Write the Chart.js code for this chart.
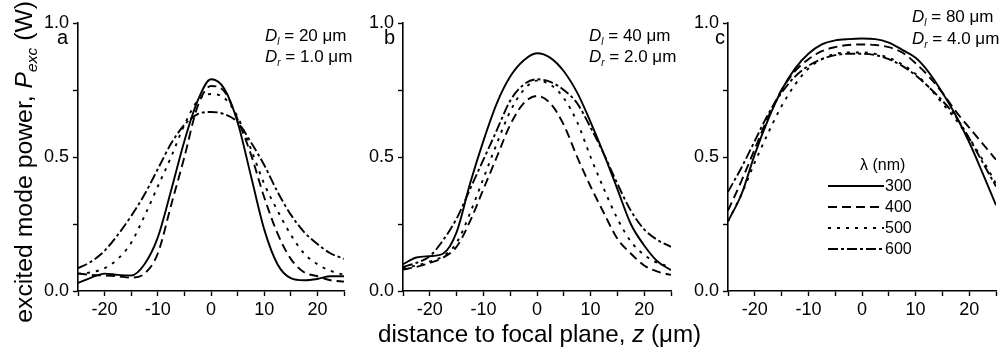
<!DOCTYPE html>
<html lang="en">
<head>
    <meta charset="UTF-8" />
    <title>Excited mode power vs distance</title>
    <script src="https://cdn.jsdelivr.net/npm/chart.js"></script>
    <style>
        body { margin: 0; background: #fff; }
        #wrap { position: relative; width: 1005px; height: 353px; font-family: "Liberation Sans", Arial, sans-serif; color: #000; }
        #wrap canvas { position: absolute; top: 0; }
        .txt { position: absolute; white-space: nowrap; line-height: 1; }
        .note { font-size: 17px; }
        .note sub { font-size: 10px; font-style: italic; vertical-align: -4px; }
        .letter { font-size: 20px; }
        .legend { position: absolute; left: 828px; top: 154px; font-size: 16px; }
        .legend .row { height: 21px; display: flex; align-items: center; }
        .legend svg { width: 56px; height: 6px; margin-right: 1px; }
    </style>
</head>
<body>
<div id="wrap">
    <canvas id="chartA" width="352" height="353" style="left:0px"></canvas>
    <canvas id="chartB" width="328" height="353" style="left:352px"></canvas>
    <canvas id="chartC" width="325" height="353" style="left:680px"></canvas>

    <!-- axis titles -->
    <div class="txt" style="font-size:24.8px; left:-132px; top:151px; width:316px; text-align:center; transform:rotate(-90deg);">excited mode power, <i>P</i><sub style="font-size:15.5px; vertical-align:-5px;"><i>exc</i></sub> (W)</div>
    <div class="txt" style="font-size:24.2px; left:378px; top:322px;">distance to focal plane, <i>z</i> (&mu;m)</div>

    <!-- panel letters -->
    <div class="txt letter" style="left:57px; top:27px;">a</div>
    <div class="txt letter" style="left:384px; top:27px;">b</div>
    <div class="txt letter" style="left:715px; top:27px;">c</div>

    <!-- parameter notes -->
    <div class="txt note" style="left:265px; top:27px;"><i>D</i><sub>l</sub> = 20 &mu;m</div>
    <div class="txt note" style="left:265px; top:48px;"><i>D</i><sub>r</sub> = 1.0 &mu;m</div>
    <div class="txt note" style="left:589px; top:27px;"><i>D</i><sub>l</sub> = 40 &mu;m</div>
    <div class="txt note" style="left:589px; top:48px;"><i>D</i><sub>r</sub> = 2.0 &mu;m</div>
    <div class="txt note" style="left:912px; top:8px;"><i>D</i><sub>l</sub> = 80 &mu;m</div>
    <div class="txt note" style="left:912px; top:30px;"><i>D</i><sub>r</sub> = 4.0 &mu;m</div>

    <!-- legend -->
    <div class="legend">
        <div class="row" style="padding-left:32px;">&lambda; (nm)</div>
        <div class="row"><svg><line x1="0" y1="3" x2="56" y2="3" stroke="#000" stroke-width="2"/></svg>300</div>
        <div class="row"><svg><line x1="0" y1="3" x2="56" y2="3" stroke="#000" stroke-width="2" stroke-dasharray="9 5"/></svg>400</div>
        <div class="row"><svg><line x1="0" y1="3" x2="56" y2="3" stroke="#000" stroke-width="2" stroke-dasharray="3 6"/></svg>500</div>
        <div class="row"><svg><line x1="0" y1="3" x2="56" y2="3" stroke="#000" stroke-width="2" stroke-dasharray="10 3 3 3"/></svg>600</div>
    </div>
</div>

<script>
    // distance to focal plane z (um)
    const zPos = [-25, -22.5, -20, -17.5, -15, -12.5, -10, -7.5, -5, -2.5, 0, 2.5, 5, 7.5, 10, 12.5, 15, 17.5, 20, 22.5, 25];

    // panel a: Dl = 20 um, Dr = 1.0 um
    const a300 = [0.03, 0.05, 0.065, 0.06, 0.058, 0.10, 0.20, 0.375, 0.56, 0.71, 0.79, 0.755, 0.63, 0.43, 0.23, 0.10, 0.048, 0.04, 0.045, 0.055, 0.055];
    const a400 = [0.065, 0.06, 0.058, 0.055, 0.05, 0.065, 0.14, 0.32, 0.50, 0.69, 0.765, 0.745, 0.64, 0.51, 0.35, 0.215, 0.12, 0.07, 0.055, 0.04, 0.035];
    const a500 = [0.065, 0.07, 0.085, 0.12, 0.18, 0.28, 0.39, 0.50, 0.62, 0.71, 0.735, 0.72, 0.65, 0.53, 0.40, 0.30, 0.21, 0.14, 0.10, 0.075, 0.06];
    const a600 = [0.085, 0.11, 0.15, 0.21, 0.28, 0.36, 0.455, 0.55, 0.62, 0.66, 0.668, 0.66, 0.63, 0.555, 0.47, 0.37, 0.285, 0.22, 0.175, 0.14, 0.12];

    // panel b: Dl = 40 um, Dr = 2.0 um
    const b300 = [0.10, 0.125, 0.13, 0.14, 0.22, 0.40, 0.56, 0.70, 0.80, 0.86, 0.887, 0.87, 0.82, 0.74, 0.63, 0.51, 0.38, 0.25, 0.17, 0.11, 0.078];
    const b400 = [0.08, 0.09, 0.105, 0.125, 0.165, 0.26, 0.38, 0.50, 0.62, 0.70, 0.728, 0.70, 0.62, 0.50, 0.39, 0.29, 0.195, 0.14, 0.095, 0.072, 0.06];
    const b500 = [0.085, 0.095, 0.11, 0.13, 0.18, 0.29, 0.42, 0.55, 0.67, 0.75, 0.785, 0.77, 0.72, 0.63, 0.50, 0.38, 0.27, 0.185, 0.135, 0.105, 0.09];
    const b600 = [0.09, 0.105, 0.13, 0.19, 0.27, 0.38, 0.49, 0.60, 0.71, 0.77, 0.79, 0.78, 0.75, 0.70, 0.61, 0.51, 0.40, 0.30, 0.23, 0.19, 0.165];

    // panel c: Dl = 80 um, Dr = 4.0 um
    const c300 = [0.26, 0.36, 0.51, 0.64, 0.75, 0.83, 0.885, 0.92, 0.935, 0.94, 0.942, 0.94, 0.927, 0.90, 0.87, 0.815, 0.74, 0.655, 0.555, 0.44, 0.32];
    const c400 = [0.30, 0.41, 0.53, 0.65, 0.75, 0.82, 0.865, 0.895, 0.91, 0.918, 0.92, 0.918, 0.91, 0.89, 0.85, 0.80, 0.74, 0.67, 0.61, 0.55, 0.49];
    const c500 = [0.26, 0.36, 0.48, 0.59, 0.69, 0.77, 0.83, 0.865, 0.885, 0.89, 0.89, 0.885, 0.87, 0.845, 0.81, 0.76, 0.70, 0.64, 0.57, 0.49, 0.40];
    const c600 = [0.37, 0.46, 0.56, 0.66, 0.74, 0.80, 0.84, 0.865, 0.88, 0.885, 0.885, 0.88, 0.865, 0.84, 0.805, 0.76, 0.71, 0.65, 0.57, 0.48, 0.39];

    const dashes = [[], [9, 5], [3, 6], [10, 3, 3, 3]];
    const tickFont = { family: '"Liberation Sans", Arial, sans-serif', size: 18 };

    function makePanel(id, series, yWidth, padRight) {
        const ctx = document.getElementById(id).getContext('2d');
        return new Chart(ctx, {
            type: 'line',
            data: {
                datasets: series.map((vals, i) => ({
                    data: zPos.map((z, k) => ({ x: z, y: vals[k] })),
                    borderColor: '#000',
                    borderWidth: 1.9,
                    borderDash: dashes[i],
                    pointRadius: 0,
                    fill: false,
                    cubicInterpolationMode: 'monotone'
                }))
            },
            options: {
                responsive: false,
                animation: false,
                devicePixelRatio: 1,
                layout: { padding: { left: 0, right: padRight, top: 23, bottom: 0 } },
                plugins: { legend: { display: false }, tooltip: { enabled: false } },
                scales: {
                    x: {
                        type: 'linear',
                        min: -25, max: 25,
                        afterFit: s => { s.height = 62; },
                        border: { color: '#000', width: 1.6 },
                        grid: { drawOnChartArea: false, drawTicks: true, tickLength: 5, tickColor: '#000', tickWidth: 1.4 },
                        ticks: {
                            stepSize: 5, autoSkip: false, maxRotation: 0, padding: 3,
                            color: '#000', font: tickFont,
                            callback: v => (v % 10 === 0 ? String(v) : '')
                        }
                    },
                    y: {
                        min: 0, max: 1,
                        afterFit: s => { s.width = yWidth; },
                        border: { color: '#000', width: 1.6 },
                        grid: { drawOnChartArea: false, drawTicks: true, tickLength: 5, tickColor: '#000', tickWidth: 1.4 },
                        ticks: {
                            stepSize: 0.25, autoSkip: false, padding: 4,
                            color: '#000', font: tickFont,
                            callback: v => (Math.abs(v * 2 - Math.round(v * 2)) < 1e-6 ? v.toFixed(1) : '')
                        }
                    }
                }
            }
        });
    }

    makePanel('chartA', [a300, a400, a500, a600], 78, 8);
    makePanel('chartB', [b300, b400, b500, b600], 51, 9);
    makePanel('chartC', [c300, c400, c500, c600], 48, 9);
</script>
</body>
</html>
